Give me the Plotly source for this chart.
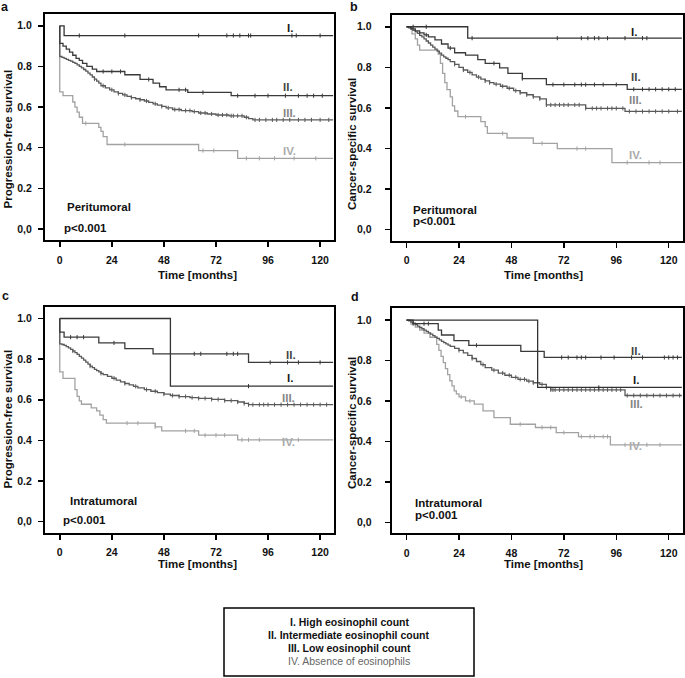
import plotly.graph_objects as go

W, H = 685, 678
FONT = "Liberation Sans, Arial, sans-serif"

# ---------------- data (Kaplan-Meier step points: event times & survival after event) -------------
# Panel a: Peritumoral, progression-free survival
a_I_t = [2]
a_I_s = [0.952]
a_I_c = [9, 30, 64, 77, 80, 83, 87, 88, 107, 109, 120]
a_II_t = [0, 1.5, 3, 4.5, 6, 7.5, 9, 10.5, 12.5, 15, 17, 30, 37, 43, 46, 49, 59, 79]
a_II_s = [0.913, 0.90, 0.885, 0.87, 0.855, 0.84, 0.83, 0.815, 0.80, 0.787, 0.775, 0.759, 0.736, 0.718, 0.70, 0.685, 0.672, 0.656]
a_II_c = [20, 24, 28, 41, 55, 58, 66, 82, 90, 96, 104, 110, 114, 117, 121]
a_III_t = [0, 1, 2, 3, 4, 5, 6, 7, 8, 9, 10, 11, 12, 13, 14, 15, 16, 17, 18, 19, 21, 23, 25, 27, 29, 31, 33, 35,
           37, 39, 41, 43, 45, 47, 49, 52, 56, 61, 64, 68, 72, 78, 85, 87, 89]
a_III_s = [0.849, 0.845, 0.84, 0.835, 0.83, 0.826, 0.82, 0.815, 0.808, 0.80, 0.793, 0.785, 0.777, 0.767, 0.758,
           0.748, 0.738, 0.728, 0.718, 0.705, 0.695, 0.685, 0.675, 0.667, 0.66, 0.653, 0.647, 0.641, 0.636, 0.63,
           0.623, 0.616, 0.61, 0.603, 0.596, 0.588, 0.583, 0.578, 0.571, 0.566, 0.561, 0.557, 0.55, 0.543, 0.537]
a_III_c = [16, 20, 24, 27, 30, 33, 37, 40, 44, 47, 50, 53, 55, 58, 60, 62, 65, 67, 70, 73, 75, 77, 79, 80, 82,
           84, 86, 90, 92, 95, 98, 100, 103, 106, 110, 113, 116, 120, 124]
a_IV_t = [0, 1.5, 6, 7, 8, 9, 10.5, 18, 19, 20, 21.8, 64, 82]
a_IV_s = [0.675, 0.656, 0.625, 0.60, 0.575, 0.55, 0.52, 0.50, 0.48, 0.455, 0.416, 0.386, 0.348]
a_IV_c = [12, 30, 66, 71, 86, 92, 99, 108, 118]

# Panel b: Peritumoral, cancer-specific survival
b_I_t = [28]
b_I_s = [0.944]
b_I_c = [3, 9, 30, 69, 80, 83, 86, 88, 92, 100, 108, 110]
b_II_t = [2, 4, 6, 8, 10, 13, 16, 19, 22, 27, 32.6, 36, 42.6, 46.4, 53, 64, 101]
b_II_s = [0.99, 0.98, 0.97, 0.96, 0.95, 0.935, 0.915, 0.895, 0.872, 0.86, 0.838, 0.82, 0.797, 0.77, 0.745, 0.715, 0.692]
b_II_c = [9, 20, 40, 53, 67, 72, 77, 80, 82, 86, 90, 96, 104, 108, 111, 114, 117, 120, 123]
b_III_t = [1, 2, 3, 4, 5, 6, 7, 8, 9, 10, 11, 12, 13, 14, 15, 16, 17, 18, 19, 20, 22, 24, 26, 28, 30, 32, 34, 36,
           38, 40, 43, 46, 49, 52, 55, 58, 61, 64, 82, 100]
b_III_s = [0.995, 0.99, 0.982, 0.975, 0.967, 0.958, 0.95, 0.94, 0.93, 0.92, 0.91, 0.90, 0.89, 0.88, 0.87, 0.86,
           0.852, 0.845, 0.838, 0.828, 0.815, 0.80, 0.787, 0.775, 0.763, 0.752, 0.742, 0.733, 0.725, 0.717,
           0.707, 0.697, 0.685, 0.675, 0.665, 0.655, 0.645, 0.615, 0.598, 0.583]
b_III_c = [22, 26, 29, 33, 36, 38, 41, 44, 47, 50, 52, 55, 58, 61, 64, 66, 68, 70, 72, 74, 77, 79, 82, 85, 87,
           89, 92, 94, 96, 99, 102, 105, 108, 111, 114, 117, 120, 124]
b_IV_t = [2.5, 4, 5, 6, 14.5, 15.5, 16.5, 17.5, 18.5, 20, 21, 22, 23.5, 34, 36, 37, 46, 58, 69, 94]
b_IV_s = [0.965, 0.94, 0.91, 0.885, 0.865, 0.82, 0.77, 0.725, 0.69, 0.655, 0.61, 0.585, 0.557, 0.533, 0.508,
          0.475, 0.452, 0.426, 0.40, 0.331]
b_IV_c = [27, 44, 62, 78, 82, 101, 111, 116]

# Panel c: Intratumoral, progression-free survival
c_I_t = [51]
c_I_s = [0.667]
c_I_c = [87]
c_II_t = [0, 2, 18, 30, 43, 87]
c_II_s = [0.933, 0.908, 0.88, 0.852, 0.826, 0.784]
c_II_c = [5, 8, 11, 25, 62, 65, 77, 80, 82, 97, 105, 110, 120]
c_III_t = [0, 1, 2, 3, 4, 5, 6, 7, 8, 9, 10, 11, 12, 13, 14, 15, 16, 17, 18, 19, 20, 22, 24, 26, 28, 30, 32, 34,
           36, 39, 42, 45, 48, 51, 55, 60, 64, 70, 76, 82, 85, 87]
c_III_s = [0.875, 0.872, 0.868, 0.862, 0.855, 0.848, 0.84, 0.832, 0.823, 0.814, 0.805, 0.795, 0.785, 0.775,
           0.766, 0.758, 0.75, 0.743, 0.737, 0.73, 0.724, 0.715, 0.706, 0.697, 0.688, 0.68, 0.673, 0.666, 0.659,
           0.65, 0.642, 0.635, 0.628, 0.621, 0.616, 0.611, 0.607, 0.602, 0.596, 0.589, 0.582, 0.576]
c_III_c = [6, 14, 19, 25, 30, 35, 40, 44, 48, 52, 55, 58, 61, 64, 67, 70, 73, 76, 79, 82, 85, 87, 89, 92, 94,
           96, 99, 102, 105, 108, 111, 114, 117, 120, 123]
c_IV_t = [0, 1.5, 7, 8, 9, 10, 14.5, 17, 18.5, 20, 21.5, 44, 47, 64, 82]
c_IV_s = [0.737, 0.705, 0.65, 0.617, 0.595, 0.578, 0.56, 0.545, 0.525, 0.502, 0.485, 0.467, 0.447, 0.426, 0.403]
c_IV_c = [31, 36, 44, 58, 62, 67, 72, 76, 84, 87, 92, 103, 110]

# Panel d: Intratumoral, cancer-specific survival
d_I_t = [60]
d_I_s = [0.667]
d_I_c = [88]
d_II_t = [3, 14.5, 16, 21.7, 28.5, 52.3, 63]
d_II_s = [0.982, 0.95, 0.926, 0.898, 0.875, 0.845, 0.815]
d_II_c = [3, 8, 10, 32, 71, 74, 78, 80, 82, 89, 95, 103, 108, 118, 120, 122, 124]
d_III_t = [1, 2, 3, 4, 5, 6, 7, 8, 9, 10, 11, 12, 13, 14, 15, 16, 17, 18, 19, 20, 22, 24, 26, 28, 30, 32, 34,
           36, 39, 42, 45, 48, 51, 55, 58, 61, 64, 66, 100]
d_III_s = [0.996, 0.99, 0.984, 0.977, 0.97, 0.963, 0.957, 0.95, 0.944, 0.937, 0.93, 0.923, 0.916, 0.909, 0.902,
           0.895, 0.888, 0.882, 0.876, 0.87, 0.86, 0.85, 0.838, 0.825, 0.81, 0.795, 0.78, 0.765, 0.752, 0.738,
           0.727, 0.717, 0.707, 0.698, 0.69, 0.682, 0.667, 0.655, 0.627]
d_III_c = [24, 30, 35, 40, 44, 47, 50, 52, 54, 56, 58, 62, 64, 66, 67, 68, 70, 72, 74, 76, 78, 80, 82, 84, 86,
           88, 90, 92, 94, 96, 98, 101, 104, 107, 110, 113, 116, 119, 122, 125]
d_IV_t = [2, 4, 6, 8, 10.7, 13.8, 14.8, 15.8, 16.8, 17.8, 18.8, 19.8, 20.8, 21.8, 22.8, 24, 27, 31, 35, 40,
          47.5, 59, 68.5, 78.7, 93.3]
d_IV_s = [0.98, 0.965, 0.95, 0.935, 0.915, 0.88, 0.85, 0.82, 0.79, 0.76, 0.73, 0.70, 0.675, 0.65, 0.635, 0.62,
          0.6, 0.584, 0.551, 0.518, 0.485, 0.469, 0.444, 0.424, 0.383]
d_IV_c = [25, 29, 52, 62, 66, 72, 80, 84, 86, 90, 92, 100, 110, 116]

groups = ["I.", "II.", "III.", "IV."]
legend_lines = ["I. High eosinophil count", "II. Intermediate eosinophil count",
                "III. Low eosinophil count", "IV. Absence of eosinophils"]
x_ticks = [0, 24, 48, 72, 96, 120]
y_ticks = [0.0, 0.2, 0.4, 0.6, 0.8, 1.0]
y_ticktext = ["0,0", "0.2", "0.4", "0.6", "0.8", "1.0"]
T_END = 126

panels = [
    dict(letter="a", site="Peritumoral", ytitle="Progression-free survival",
         curves=[(a_I_t, a_I_s, a_I_c), (a_II_t, a_II_s, a_II_c), (a_III_t, a_III_s, a_III_c), (a_IV_t, a_IV_s, a_IV_c)]),
    dict(letter="b", site="Peritumoral", ytitle="Cancer-specific survival",
         curves=[(b_I_t, b_I_s, b_I_c), (b_II_t, b_II_s, b_II_c), (b_III_t, b_III_s, b_III_c), (b_IV_t, b_IV_s, b_IV_c)]),
    dict(letter="c", site="Intratumoral", ytitle="Progression-free survival",
         curves=[(c_I_t, c_I_s, c_I_c), (c_II_t, c_II_s, c_II_c), (c_III_t, c_III_s, c_III_c), (c_IV_t, c_IV_s, c_IV_c)]),
    dict(letter="d", site="Intratumoral", ytitle="Cancer-specific survival",
         curves=[(d_I_t, d_I_s, d_I_c), (d_II_t, d_II_s, d_II_c), (d_III_t, d_III_s, d_III_c), (d_IV_t, d_IV_s, d_IV_c)]),
]

# ---------------- styling / layout ----------------
line_colors = ["#333333", "#3a3a3a", "#5a5a5a", "#a2a2a2"]
label_colors = ["#1a1a1a", "#444444", "#858585", "#ababab"]

# pixel boxes of the four plot frames in the reference (left, top, right, bottom)
boxes = [(45, 14, 334, 240), (391.7, 15, 682.7, 240.7), (45, 306.7, 334, 532.7), (391.7, 308.3, 682.7, 533.3)]
tick_standoff = [4, 11, 4, 11]
label_pos = [
    [(103.6, 0.988), (102.1, 0.697), (101.8, 0.570), (101.8, 0.382)],
    [(102.0, 0.972), (102.0, 0.751), (101.0, 0.639), (100.8, 0.369)],
    [(104.0, 0.707), (103.3, 0.819), (101.6, 0.609), (101.6, 0.391)],
    [(102.8, 0.702), (101.8, 0.847), (101.2, 0.584), (100.9, 0.378)],
]
site_pos = [((2.6, 0.11), (1.2, 0.006)), ((2.0, 0.098), (2.0, 0.041)),
            ((3.8, 0.102), (0.5, 0.008)), ((2.8, 0.095), (2.8, 0.038))]
letter_px = [(5, 7), (354, 7), (5, 296), (355, 297)]
ytitle_px = [(7.5, 139), (352, 144), (7.5, 419), (352, 423)]
xtitle_px = [(197, 275), (543, 275), (197, 564), (543, 564)]


def px(x):
    return x / W


def py(y):
    return 1 - y / H


def step_value(times, surv, t):
    v = 1.0
    for tt, ss in zip(times, surv):
        if tt <= t:
            v = ss
    return v


fig = go.Figure()
annotations = []
layout = {}

for i, p in enumerate(panels):
    xa = "x" if i == 0 else f"x{i + 1}"
    ya = "y" if i == 0 else f"y{i + 1}"
    xkey = "xaxis" if i == 0 else f"xaxis{i + 1}"
    ykey = "yaxis" if i == 0 else f"yaxis{i + 1}"
    l, t, r, b = boxes[i]
    common = dict(showgrid=False, zeroline=False, showline=True, mirror=True, linecolor="black", linewidth=2,
                  ticks="outside", ticklen=5, tickwidth=1.5, tickcolor="black",
                  tickfont=dict(family=FONT, size=10.5, color="#111", weight="bold"))
    layout[xkey] = dict(common, domain=[px(l), min(px(r), 0.997)], range=[-6.8, 126.4], tickvals=x_ticks,
                        ticktext=[str(v) for v in x_ticks], anchor=ya, ticklabelstandoff=4, fixedrange=True)
    layout[ykey] = dict(common, domain=[py(b), py(t)], range=[-0.054, 1.058], tickvals=y_ticks,
                        ticktext=y_ticktext, anchor=xa, ticklabelstandoff=tick_standoff[i], fixedrange=True)

    # draw IV first so darker lines sit on top
    for k in [3, 2, 1, 0]:
        times, surv, cens = p["curves"][k]
        xs = [0] + list(times) + [T_END]
        ys = [1.0] + list(surv) + [surv[-1]]
        fig.add_trace(go.Scatter(x=xs, y=ys, mode="lines", line=dict(shape="hv", color=line_colors[k], width=1.3),
                                 xaxis=xa, yaxis=ya, showlegend=False, hoverinfo="skip"))
        cy = [step_value(times, surv, c) for c in cens]
        fig.add_trace(go.Scatter(x=cens, y=cy, mode="markers",
                                 marker=dict(symbol="line-ns", size=3, line=dict(color=line_colors[k], width=1)),
                                 xaxis=xa, yaxis=ya, showlegend=False, hoverinfo="skip"))

    for k, g in enumerate(groups):
        lx, ly = label_pos[i][k]
        annotations.append(dict(x=lx, y=ly, xref=xa, yref=ya, text=g, showarrow=False, xanchor="left",
                                yanchor="middle", font=dict(family=FONT, size=11.5, color=label_colors[k], weight="bold")))
    (sx, sy), (qx, qy) = site_pos[i]
    annotations.append(dict(x=sx, y=sy, xref=xa, yref=ya, text=p["site"], showarrow=False, xanchor="left",
                            yanchor="middle", font=dict(family=FONT, size=11.5, color="#111", weight="bold")))
    annotations.append(dict(x=qx, y=qy, xref=xa, yref=ya, text="p<0.001", showarrow=False, xanchor="left",
                            yanchor="middle", font=dict(family=FONT, size=11.5, color="#111", weight="bold")))
    lx, ly = letter_px[i]
    annotations.append(dict(x=px(lx), y=py(ly), xref="paper", yref="paper", text=p["letter"], showarrow=False,
                            xanchor="center", yanchor="middle", font=dict(family=FONT, size=12.5, color="#111", weight="bold")))
    tx, ty = ytitle_px[i]
    annotations.append(dict(x=px(tx), y=py(ty), xref="paper", yref="paper", text=p["ytitle"], showarrow=False,
                            textangle=-90, xanchor="center", yanchor="middle",
                            font=dict(family=FONT, size=11.5, color="#111", weight="bold")))
    tx, ty = xtitle_px[i]
    annotations.append(dict(x=px(tx), y=py(ty), xref="paper", yref="paper", text="Time [months]", showarrow=False,
                            xanchor="center", yanchor="middle",
                            font=dict(family=FONT, size=11.5, color="#111", weight="bold")))

# legend box
legend_y = [622, 635, 648, 661]
for k, txt in enumerate(legend_lines):
    annotations.append(dict(x=px(349), y=py(legend_y[k]), xref="paper", yref="paper", text=txt, showarrow=False,
                            xanchor="center", yanchor="middle",
                            font=dict(family=FONT, size=10.5, color="#111" if k < 3 else "#666",
                                      weight="bold" if k < 3 else "normal")))

fig.update_layout(
    width=W, height=H, autosize=False,
    margin=dict(l=0, r=0, t=0, b=0),
    paper_bgcolor="white", plot_bgcolor="white",
    annotations=annotations,
    shapes=[dict(type="rect", xref="paper", yref="paper", x0=px(224), x1=px(474), y0=py(676), y1=py(608),
                 line=dict(color="black", width=1.5), fillcolor="rgba(0,0,0,0)")],
    showlegend=False,
    hovermode=False,
    **layout,
)

# remove the browser's default 8 px body margin so the figure sits at the page origin
fig.write_html("out.html",
               config={"displayModeBar": False, "staticPlot": True},
               post_script="document.body.style.margin='0px';document.body.style.overflow='hidden';")
